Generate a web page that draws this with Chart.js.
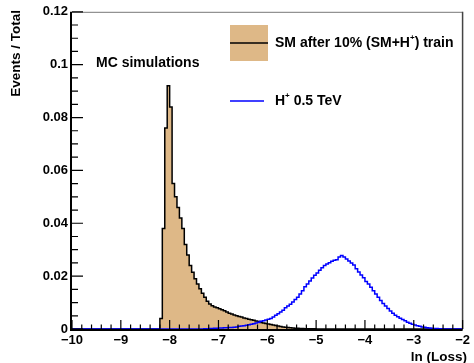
<!DOCTYPE html>
<html>
<head>
<meta charset="utf-8">
<script src="https://cdn.jsdelivr.net/npm/chart.js@4"></script>
<style>
  body { margin: 0; background: #fff; }
  #wrap { width: 474px; height: 363px; }
</style>
</head>
<body>
<div id="wrap"><canvas id="lossChart" width="474" height="363"></canvas></div>
<script>
// axis range and ticks
const xMin = -10
const xMax = -2
const xTicks = [-10, -9, -8, -7, -6, -5, -4, -3, -2]
const yTicks = [0, 0.02, 0.04, 0.06, 0.08, 0.1, 0.12]
const binWidth = 0.05

// SM after 10% (SM+H+) train, bins starting at smStart
const smStart = -8.2
const smValues = [
  0.004, 0.038, 0.076, 0.092, 0.084, 0.055, 0.050, 0.046, 0.042, 0.038,
  0.032, 0.028, 0.024, 0.0215, 0.019, 0.017, 0.0152, 0.0135, 0.012, 0.0105,
  0.0095, 0.0088, 0.0083, 0.008, 0.0077, 0.0073, 0.0069, 0.0064, 0.006, 0.0057,
  0.0053, 0.005, 0.0047, 0.0045, 0.0042, 0.004, 0.0037, 0.0035, 0.0033, 0.003,
  0.0028, 0.0025, 0.0023, 0.0021, 0.0019, 0.0017, 0.0015, 0.0013, 0.0011, 0.0009,
  0.0008, 0.0007, 0.0006, 0.0005, 0.0004, 0.0003, 0.0003, 0.0002, 0.0002, 0.0001,
  0.0001, 0.0001, 0.0001, 0.00005
]

// H+ 0.5 TeV, bins starting at hStart
const hStart = -7.3
const hValues = [
  0.0001, 0.0001, 0.0002, 0.0002, 0.0003, 0.0003, 0.0004, 0.0004, 0.0005, 0.0005,
  0.0006, 0.0006, 0.0007, 0.0008, 0.0010, 0.0011, 0.0012, 0.0014, 0.0016, 0.0018,
  0.0020, 0.0023, 0.0026, 0.0029, 0.0031, 0.0034, 0.0037, 0.0040, 0.0045, 0.0052,
  0.0058, 0.0064, 0.0071, 0.0080, 0.0087, 0.0094, 0.0102, 0.0112, 0.0120, 0.0132,
  0.0145, 0.0160, 0.0170, 0.0182, 0.0193, 0.0203, 0.0212, 0.0222, 0.0232, 0.0240,
  0.0246, 0.0251, 0.0256, 0.0260, 0.0262, 0.0272, 0.0278, 0.0272, 0.0265, 0.0257,
  0.0250, 0.0242, 0.0228, 0.0216, 0.0204, 0.0194, 0.0180, 0.0170, 0.0158, 0.0145,
  0.0132, 0.0120, 0.0108, 0.0096, 0.0087, 0.0078, 0.0068, 0.0060, 0.0052, 0.0046,
  0.0041, 0.0036, 0.0031, 0.0026, 0.0022, 0.0018, 0.0015, 0.0012, 0.0010, 0.0008,
  0.0007, 0.0005, 0.0004, 0.0003, 0.0002, 0.0002, 0.0001, 0.0001
]

const font = 'Liberation Sans, Arial, sans-serif'

// turn bin contents into step points (left edges)
function histPoints(start, values) {
  const pts = [{ x: xMin, y: 0 }, { x: start, y: 0 }]
  values.forEach((v, i) => pts.push({ x: start + i * binWidth, y: v }))
  pts.push({ x: start + values.length * binWidth, y: 0 })
  pts.push({ x: xMax, y: 0 })
  return pts
}

function minus(v) {
  return v < 0 ? '\u2212' + Math.abs(v) : String(v)
}

// ROOT-like frame: inner ticks, legend, labels
const rootStyle = {
  id: 'rootStyle',
  afterDatasetsDraw(chart) {
    const ctx = chart.ctx
    const xs = chart.scales.x
    const ys = chart.scales.y
    const a = chart.chartArea
    ctx.save()

    // top / right frame
    ctx.strokeStyle = '#777'
    ctx.lineWidth = 1
    ctx.beginPath()
    ctx.moveTo(a.left, a.top + 0.5)
    ctx.lineTo(a.right, a.top + 0.5)
    ctx.stroke()
    ctx.strokeStyle = '#444'
    ctx.lineWidth = 1.5
    ctx.beginPath()
    ctx.moveTo(a.right, a.top)
    ctx.lineTo(a.right, a.bottom)
    ctx.stroke()

    // axes
    ctx.strokeStyle = '#000'
    ctx.lineWidth = 2
    ctx.beginPath()
    ctx.moveTo(a.left - 1, a.top)
    ctx.lineTo(a.left - 1, a.bottom + 2)
    ctx.moveTo(a.left - 2, a.bottom + 1)
    ctx.lineTo(a.right, a.bottom + 1)
    ctx.stroke()

    // x ticks
    ctx.lineWidth = 1.2
    ctx.beginPath()
    for (let i = 0; i < xTicks.length; i++) {
      const px = xs.getPixelForValue(xTicks[i])
      ctx.moveTo(px, a.bottom)
      ctx.lineTo(px, a.bottom - 9)
      if (i < xTicks.length - 1) {
        const step = (xTicks[i + 1] - xTicks[i]) / 5
        for (let k = 1; k < 5; k++) {
          const mx = xs.getPixelForValue(xTicks[i] + k * step)
          ctx.moveTo(mx, a.bottom)
          ctx.lineTo(mx, a.bottom - 4.5)
        }
      }
    }
    // y ticks
    for (let i = 0; i < yTicks.length; i++) {
      const py = ys.getPixelForValue(yTicks[i])
      ctx.moveTo(a.left, py)
      ctx.lineTo(a.left + 11, py)
      if (i < yTicks.length - 1) {
        const step = (yTicks[i + 1] - yTicks[i]) / 4
        for (let k = 1; k < 4; k++) {
          const my = ys.getPixelForValue(yTicks[i] + k * step)
          ctx.moveTo(a.left, my)
          ctx.lineTo(a.left + 6, my)
        }
      }
    }
    ctx.stroke()

    // axis titles
    ctx.fillStyle = '#000'
    ctx.font = 'bold 13.5px ' + font
    ctx.textBaseline = 'middle'
    ctx.textAlign = 'right'
    ctx.fillText('ln (Loss)', 467, 357)
    ctx.save()
    ctx.translate(16, 10)
    ctx.rotate(-Math.PI / 2)
    ctx.fillText('Events / Total', 0, 0)
    ctx.restore()

    // MC label
    ctx.textAlign = 'left'
    ctx.font = 'bold 14px ' + font
    ctx.fillText('MC simulations', 96, 63)

    // legend
    ctx.fillStyle = '#DEB887'
    ctx.fillRect(230, 25, 38, 36)
    ctx.strokeStyle = '#000'
    ctx.lineWidth = 1.5
    ctx.beginPath()
    ctx.moveTo(230, 43)
    ctx.lineTo(268, 43)
    ctx.stroke()
    ctx.strokeStyle = '#0000ff'
    ctx.beginPath()
    ctx.moveTo(230, 101)
    ctx.lineTo(264, 101)
    ctx.stroke()

    ctx.fillStyle = '#000'
    const drawSup = (parts, x, y) => {
      parts.forEach(p => {
        ctx.font = p.sup ? 'bold 8px ' + font : 'bold 14px ' + font
        ctx.fillText(p.t, x, p.sup ? y - 5 : y)
        x += ctx.measureText(p.t).width
      })
    }
    drawSup([{ t: 'SM after 10% (SM+H' }, { t: '+', sup: true }, { t: ') train' }], 275, 43)
    drawSup([{ t: 'H' }, { t: '+', sup: true }, { t: ' 0.5 TeV' }], 275, 101)

    ctx.restore()
  }
}

new Chart(document.getElementById('lossChart'), {
  type: 'line',
  data: {
    datasets: [{
      label: 'H+ 0.5 TeV',
      data: histPoints(hStart, hValues),
      borderColor: '#0000ff',
      borderWidth: 1.5,
      stepped: 'before',
      pointRadius: 0,
      fill: false,
      clip: false,
      order: 0
    }, {
      label: 'SM after 10% (SM+H+) train',
      data: histPoints(smStart, smValues),
      borderColor: '#000',
      backgroundColor: '#DEB887',
      borderWidth: 1.5,
      stepped: 'before',
      pointRadius: 0,
      fill: 'origin',
      clip: false,
      order: 1
    }]
  },
  options: {
    responsive: false,
    animation: false,
    layout: { padding: { left: 0, right: 4, top: 10, bottom: 0 } },
    plugins: {
      legend: { display: false },
      tooltip: { enabled: false }
    },
    scales: {
      x: {
        type: 'linear',
        min: xMin,
        max: xMax,
        grid: { display: false, drawTicks: false },
        border: { display: false },
        afterBuildTicks: s => { s.ticks = xTicks.map(v => ({ value: v })) },
        afterFit: s => { s.height = 34 },
        ticks: {
          maxRotation: 0,
          autoSkip: false,
          padding: 4,
          color: '#000',
          font: { family: font, size: 13, weight: 'bold' },
          callback: v => minus(v)
        }
      },
      y: {
        min: 0,
        max: 0.12,
        grid: { display: false, drawTicks: false },
        border: { display: false },
        afterBuildTicks: s => { s.ticks = yTicks.map(v => ({ value: v })) },
        afterFit: s => { s.width = 72 },
        ticks: {
          padding: 4,
          color: '#000',
          font: { family: font, size: 13, weight: 'bold' },
          callback: v => v === 0 ? '0' : String(parseFloat(v.toFixed(2)))
        }
      }
    }
  },
  plugins: [rootStyle]
})
</script>
</body>
</html>
